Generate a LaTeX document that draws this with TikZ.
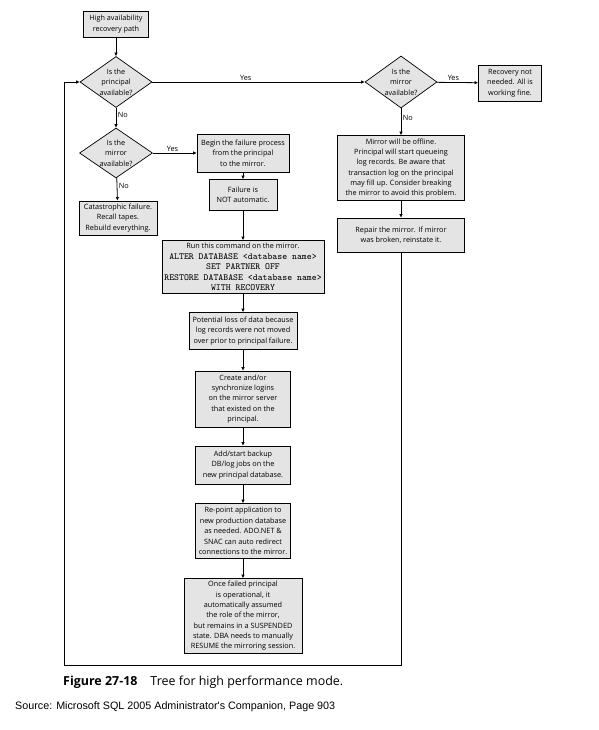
\documentclass[tikz,border=0pt]{standalone}
\usepackage{fontspec}
\setmainfont{Open Sans}
\newfontfamily\arialfont{Liberation Sans}
\usetikzlibrary{shapes.geometric,arrows.meta}

\definecolor{boxgray}{RGB}{228,228,228}
\newcommand{\boxfont}{\fontsize{7.3}{10.4}\selectfont}
\newcommand{\cmdfont}{\ttfamily\fontsize{9.4}{10.5}\selectfont}

\tikzset{
	stepbox/.style={draw=black, fill=boxgray, line width=0.7bp, inner sep=0pt, align=center, font=\boxfont},
	decision/.style={diamond, draw=black, fill=boxgray, line width=0.7bp, inner sep=0pt},
	declabel/.style={align=center, font=\boxfont, inner sep=0pt},
	flow/.style={line width=0.8bp, -{Latex[length=3.5bp,width=3.5bp]}},
	answer/.style={font=\boxfont, inner sep=1.5bp}
}

\begin{document}
\begin{tikzpicture}[x=1bp, y=-1bp]
		
		\useasboundingbox[fill=white] (0,0) rectangle (599,730);
		
		\node[stepbox, minimum width=65bp, minimum height=26bp] (hapath) at (116,24) {High availability\\recovery path};
		\node[decision, minimum width=72bp, minimum height=51bp, label={[declabel]center:{Is the\\principal\\available?}}] (dprinc) at (116,82) {};
		\node[decision, minimum width=73bp, minimum height=50bp, label={[declabel]center:{Is the\\mirror\\available?}}] (dmirror) at (116,153) {};
		\node[stepbox, minimum width=78bp, minimum height=34bp] (catas) at (118,218) {Catastrophic failure.\\Recall tapes.\\Rebuild everything.};
		
		\node[stepbox, minimum width=92bp, minimum height=38bp] (begin) at (243,153) {Begin the failure process\\from the principal\\to the mirror.};
		\node[stepbox, minimum width=68bp, minimum height=31bp] (notauto) at (243,195) {Failure is\\NOT automatic.};
		\node[stepbox, minimum width=162bp, minimum height=53bp] (runcmd) at (243,267) {Run this command on the mirror.\\{\cmdfont ALTER DATABASE <database name>}\\{\cmdfont SET PARTNER OFF}\\{\cmdfont RESTORE DATABASE <database name>}\\{\cmdfont WITH RECOVERY}};
		\node[stepbox, minimum width=108bp, minimum height=37bp] (loss) at (243,331) {Potential loss of data because\\log records were not moved\\over prior to principal failure.};
		\node[stepbox, minimum width=95bp, minimum height=56bp] (logins) at (243,399) {Create and/or\\synchronize logins\\on the mirror server\\that existed on the\\principal.};
		\node[stepbox, minimum width=95bp, minimum height=38bp] (backup) at (243,465) {Add/start backup\\DB/log jobs on the\\new principal database.};
		\node[stepbox, minimum width=95bp, minimum height=55bp] (repoint) at (243,531) {Re-point application to\\new production database\\as needed. ADO.NET \&\\SNAC can auto redirect\\connections to the mirror.};
		\node[stepbox, minimum width=118bp, minimum height=75bp] (resume) at (243,616) {Once failed principal\\is operational, it\\automatically assumed\\the role of the mirror,\\but remains in a SUSPENDED\\state. DBA needs to manually\\RESUME the mirroring session.};
		
		\node[decision, minimum width=72bp, minimum height=52bp, label={[declabel]center:{Is the\\mirror\\available?}}] (dmirrorR) at (401,82) {};
		\node[stepbox, minimum width=63bp, minimum height=36bp] (fine) at (510,83) {Recovery not\\needed. All is\\working fine.};
		\node[stepbox, minimum width=127bp, minimum height=65bp] (offline) at (401,168) {Mirror will be offline.\\Principal will start queueing\\log records. Be aware that\\transaction log on the principal\\may fill up. Consider breaking\\the mirror to avoid this problem.};
		\node[stepbox, minimum width=127bp, minimum height=34bp] (repair) at (401,235) {Repair the mirror. If mirror\\was broken, reinstate it.};
		
		\coordinate (loopbl) at (64,665);
		
		\draw[flow] (hapath) -- (dprinc);
		\draw[flow] (dprinc) -- node[answer, above, pos=0.44] {Yes} (dmirrorR);
		\draw[flow] (dprinc) -- node[answer, right, pos=0.35] {No} (dmirror);
		\draw[flow] (dmirror) -- node[answer, above, pos=0.45] {Yes} (begin);
		\draw[flow] (dmirror) -- node[answer, right, pos=0.35] {No} (catas);
		\draw[flow] (dmirrorR) -- node[answer, above, pos=0.4] {Yes} (fine);
		\draw[flow] (dmirrorR) -- node[answer, right, pos=0.35] {No} (offline);
		
		\draw[flow] (begin) -- (notauto);
		\draw[flow] (notauto) -- (runcmd);
		\draw[flow] (runcmd) -- (loss);
		\draw[flow] (loss) -- (logins);
		\draw[flow] (logins) -- (backup);
		\draw[flow] (backup) -- (repoint);
		\draw[flow] (repoint) -- (resume);
		
		\draw[flow] (offline) -- (repair);
		\draw[flow] (repair) |- (loopbl) |- (dprinc);
		
		\node[anchor=base west, inner sep=0pt, font=\fontsize{12.5}{14}\selectfont] (caption) at (63,685) {\textbf{Figure 27-18}\hspace{13bp}Tree for high performance mode.};
		\node[anchor=base west, inner sep=0pt, font=\arialfont\fontsize{10.8}{12}\selectfont] (source) at (15,709) {Source: Microsoft SQL 2005 Administrator\textquotesingle s Companion, Page 903};
		
\end{tikzpicture}
\end{document}
